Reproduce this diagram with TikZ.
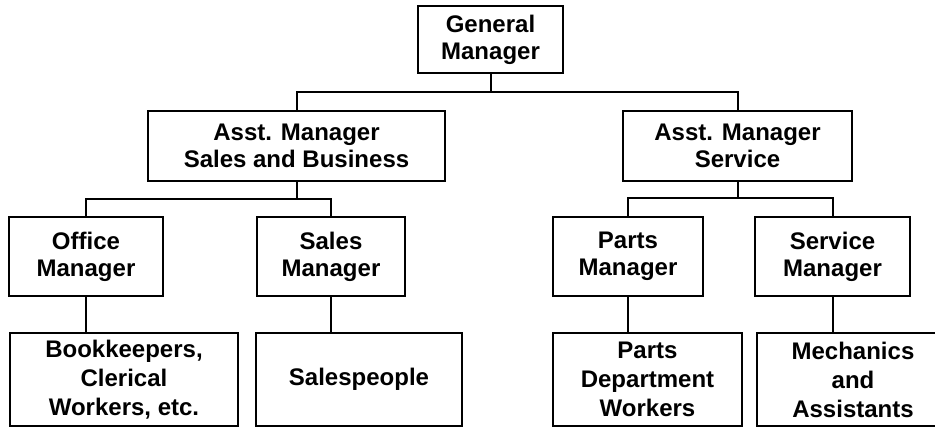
\documentclass[tikz,border=0pt]{standalone}
\usepackage{fontspec}
\setmainfont{Liberation Sans}
\usepackage{tikz}
\usetikzlibrary{positioning, calc}

\begin{document}
\begin{tikzpicture}[
    x=1pt, y=-1pt,
    line width=2pt,
    every node/.style={rectangle, draw, line width=2pt, align=center,
                       inner sep=2pt, font=\bfseries\fontsize{24}{27}\selectfont},
    level2/.style={minimum height=79pt},
    level3/.style={minimum height=93pt, font=\bfseries\fontsize{24}{29}\selectfont}
]
\useasboundingbox (0,0) rectangle (935,428);

% top of the chart
\node[minimum width=145pt, minimum height=67pt] (gm) at (490.5,39.5) {General\\Manager};

% assistant managers
\node[minimum width=297pt, minimum height=70pt] (asb) at (296.5,146) {Asst. Manager\\Sales and Business};
\node[minimum width=229pt, minimum height=70pt] (asv) at (737.5,146) {Asst. Manager\\Service};

% department managers
\node[level2, minimum width=154pt] (om) at (86,256.5)  {Office\\Manager};
\node[level2, minimum width=148pt] (sm) at (331,256.5) {Sales\\Manager};
\node[level2, minimum width=150pt] (pm) at (628,256.5) {Parts\\Manager};
\node[level2, minimum width=155pt] (vm) at (832.5,256.5) {Service\\Manager};

% staff
\node[level3, minimum width=228pt] (bk) at (124,379.5) {Bookkeepers,\\Clerical\\Workers, etc.};
\node[level3, minimum width=206pt] (sp) at (359,379.5) {Salespeople};
\node[level3, minimum width=189pt] (pw) at (647.5,379.5) {Parts\\Department\\Workers};
\node[level3, minimum width=192pt] (mc) at (853,379.5) {Mechanics\\and\\Assistants};

% connectors
\coordinate (bus1) at (490.5,92);
\coordinate (bus2) at (296.5,199);
\coordinate (bus3) at (737.5,198);
\draw (gm.south) -- (bus1);
\draw (asb.north) |- (bus1) -| (asv.north);
\draw (asb.south) -- (bus2);
\draw (om.north) |- (bus2) -| (sm.north);
\draw (asv.south) -- (bus3);
\draw (pm.north) |- (bus3) -| (vm.north);
\draw (om.south) -- (om.south |- bk.north);
\draw (sm.south) -- (sm.south |- sp.north);
\draw (pm.south) -- (pm.south |- pw.north);
\draw (vm.south) -- (vm.south |- mc.north);
\end{tikzpicture}
\end{document}
